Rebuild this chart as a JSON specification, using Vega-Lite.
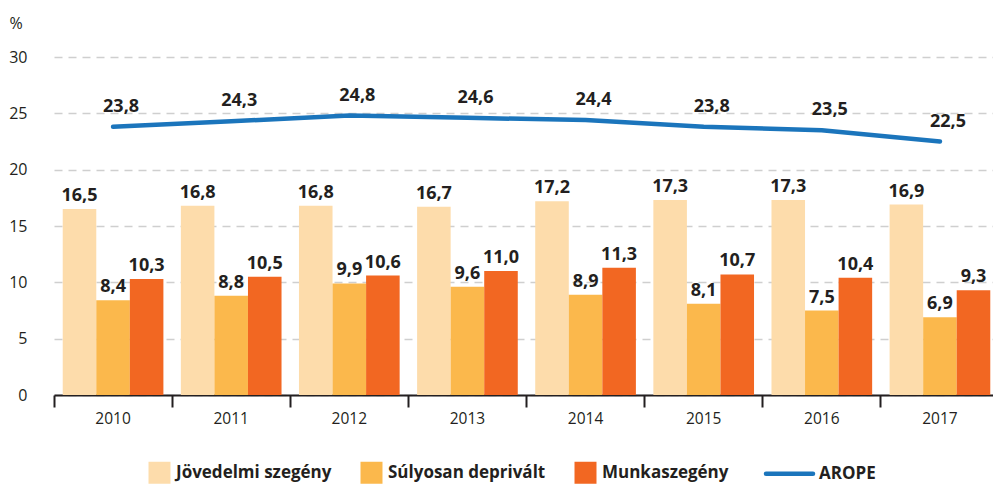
{
  "$schema": "https://vega.github.io/schema/vega-lite/v6.json",
  "width": 945,
  "height": 338,
  "autosize": {"type": "none"},
  "padding": {"left": 54, "top": 57, "right": 0, "bottom": 96},
  "config": {
    "view": {"stroke": null},
    "font": "Open Sans",
    "locale": {"number": {"decimal": ",", "thousands": " ", "grouping": [3], "currency": ["", ""]}}
  },
  "data": {
    "values": [
      {"year": "2010", "series": "Jövedelmi szegény", "value": 16.5},
      {"year": "2011", "series": "Jövedelmi szegény", "value": 16.8},
      {"year": "2012", "series": "Jövedelmi szegény", "value": 16.8},
      {"year": "2013", "series": "Jövedelmi szegény", "value": 16.7},
      {"year": "2014", "series": "Jövedelmi szegény", "value": 17.2},
      {"year": "2015", "series": "Jövedelmi szegény", "value": 17.3},
      {"year": "2016", "series": "Jövedelmi szegény", "value": 17.3},
      {"year": "2017", "series": "Jövedelmi szegény", "value": 16.9},
      {"year": "2010", "series": "Súlyosan deprivált", "value": 8.4},
      {"year": "2011", "series": "Súlyosan deprivált", "value": 8.8},
      {"year": "2012", "series": "Súlyosan deprivált", "value": 9.9},
      {"year": "2013", "series": "Súlyosan deprivált", "value": 9.6},
      {"year": "2014", "series": "Súlyosan deprivált", "value": 8.9},
      {"year": "2015", "series": "Súlyosan deprivált", "value": 8.1},
      {"year": "2016", "series": "Súlyosan deprivált", "value": 7.5},
      {"year": "2017", "series": "Súlyosan deprivált", "value": 6.9},
      {"year": "2010", "series": "Munkaszegény", "value": 10.3},
      {"year": "2011", "series": "Munkaszegény", "value": 10.5},
      {"year": "2012", "series": "Munkaszegény", "value": 10.6},
      {"year": "2013", "series": "Munkaszegény", "value": 11.0},
      {"year": "2014", "series": "Munkaszegény", "value": 11.3},
      {"year": "2015", "series": "Munkaszegény", "value": 10.7},
      {"year": "2016", "series": "Munkaszegény", "value": 10.4},
      {"year": "2017", "series": "Munkaszegény", "value": 9.3},
      {"year": "2010", "series": "AROPE", "value": 23.8},
      {"year": "2011", "series": "AROPE", "value": 24.3},
      {"year": "2012", "series": "AROPE", "value": 24.8},
      {"year": "2013", "series": "AROPE", "value": 24.6},
      {"year": "2014", "series": "AROPE", "value": 24.4},
      {"year": "2015", "series": "AROPE", "value": 23.8},
      {"year": "2016", "series": "AROPE", "value": 23.5},
      {"year": "2017", "series": "AROPE", "value": 22.5}
    ]
  },
  "encoding": {
    "x": {
      "field": "year",
      "type": "nominal",
      "scale": {"paddingInner": 0, "paddingOuter": 0},
      "axis": {
        "title": null,
        "labelAngle": 0,
        "domainColor": "#231f20",
        "domainWidth": 2,
        "tickColor": "#231f20",
        "tickWidth": 2,
        "tickSize": 12,
        "bandPosition": 0,
        "labelFontSize": 15.5,
        "labelPadding": 4,
        "labelColor": "#231f20",
        "grid": false
      }
    },
    "y": {
      "field": "value",
      "type": "quantitative",
      "scale": {"domain": [0, 30], "nice": false},
      "axis": {
        "title": "%",
        "titleAngle": 0,
        "titleAlign": "left",
        "titleBaseline": "alphabetic",
        "titleX": -45,
        "titleY": -29,
        "titleFontWeight": "normal",
        "titleFontSize": 16,
        "titleColor": "#231f20",
        "values": [0, 5, 10, 15, 20, 25, 30],
        "grid": true,
        "gridDash": [8, 6],
        "gridColor": "#cfcfcf",
        "gridWidth": 1.5,
        "domain": false,
        "ticks": false,
        "labelPadding": 27,
        "labelFontSize": 16,
        "labelColor": "#231f20"
      }
    }
  },
  "layer": [
    {
      "transform": [{"filter": "datum.series !== 'AROPE'"}],
      "mark": {"type": "bar"},
      "encoding": {
        "xOffset": {
          "field": "series",
          "type": "nominal",
          "scale": {"domain": ["Jövedelmi szegény", "Súlyosan deprivált", "Munkaszegény"], "paddingInner": 0, "paddingOuter": 0.26}
        },
        "color": {
          "field": "series",
          "type": "nominal",
          "scale": {
            "domain": ["Jövedelmi szegény", "Súlyosan deprivált", "Munkaszegény", "AROPE"],
            "range": ["#fddcab", "#fbb84c", "#f26722", "#1b75bc"]
          },
          "legend": {
            "title": null,
            "orient": "none",
            "legendX": 97,
            "legendY": 407,
            "direction": "horizontal",
            "columns": 4,
            "columnPadding": 28,
            "symbolSize": 484,
            "symbolType": "square",
            "symbolStrokeWidth": 0,
            "labelFontSize": 17,
            "labelFontWeight": "bold",
            "labelColor": "#231f20",
            "labelOffset": 8,
            "encode": {
              "symbols": {
                "update": {
                  "shape": {"signal": "datum.label === 'AROPE' ? 'stroke' : 'square'"},
                  "size": {"signal": "datum.label === 'AROPE' ? 2209 : 484"},
                  "stroke": {"signal": "datum.label === 'AROPE' ? '#1b75bc' : 'transparent'"},
                  "strokeWidth": {"signal": "datum.label === 'AROPE' ? 4.5 : 0"},
                  "strokeCap": {"value": "round"}
                }
              },
              "labels": {
                "update": {
                  "dx": {"signal": "datum.label === 'AROPE' ? 13 : 0"}
                }
              }
            }
          }
        }
      }
    },
    {
      "transform": [{"filter": "datum.series !== 'AROPE'"}],
      "mark": {"type": "text", "baseline": "alphabetic", "dy": -8, "fontSize": 18, "fontWeight": "bold", "color": "#231f20"},
      "encoding": {
        "xOffset": {
          "field": "series",
          "type": "nominal",
          "scale": {"domain": ["Jövedelmi szegény", "Súlyosan deprivált", "Munkaszegény"], "paddingInner": 0, "paddingOuter": 0.26}
        },
        "text": {"field": "value", "type": "quantitative", "format": ".1f"}
      }
    },
    {
      "transform": [{"filter": "datum.series === 'AROPE'"}],
      "mark": {"type": "line", "strokeWidth": 4.5, "strokeCap": "round"},
      "encoding": {
        "color": {"field": "series", "type": "nominal"}
      }
    },
    {
      "transform": [{"filter": "datum.series === 'AROPE'"}],
      "mark": {"type": "text", "baseline": "alphabetic", "dx": 8, "dy": -15, "fontSize": 18, "fontWeight": "bold", "color": "#231f20"},
      "encoding": {
        "text": {"field": "value", "type": "quantitative", "format": ".1f"}
      }
    }
  ]
}
